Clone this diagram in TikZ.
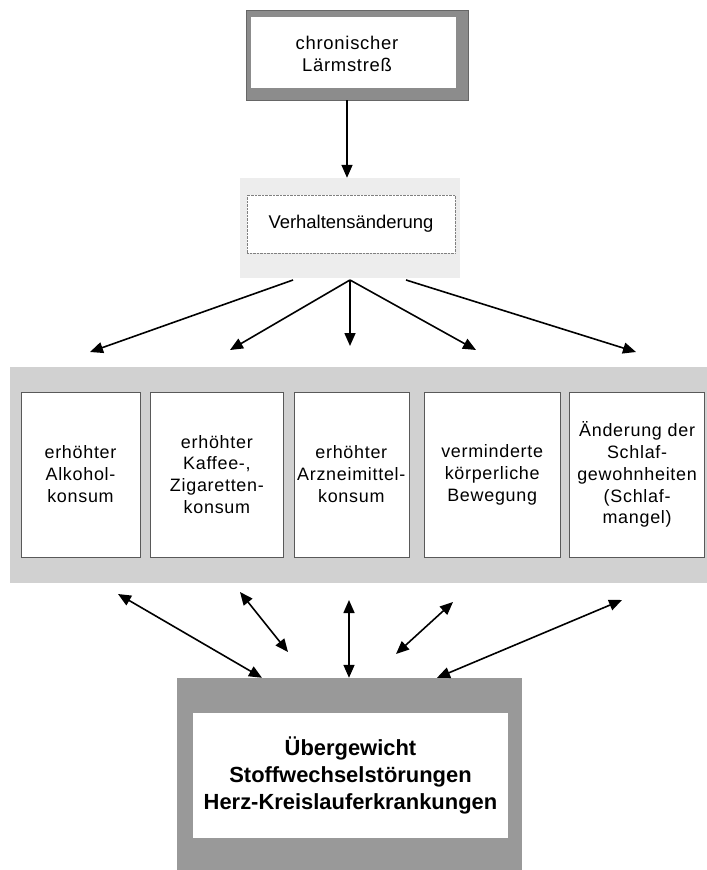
\documentclass[tikz,border=0pt]{standalone}
\usepackage{fontspec}
\setmainfont{Liberation Sans}
\newfontfamily\weit[LetterSpace=4]{Liberation Sans}
\usetikzlibrary{arrows.meta,positioning}
\tikzset{
  rahmen/.style={fill=black!45,draw=black!60,inner sep=0pt},
  feld/.style={fill=white,inner sep=0pt,align=center},
  hof/.style={fill=black!7,inner sep=0pt},
  kasten/.style={draw=black!65,fill=white,inner sep=0pt,align=center,
    minimum height=165bp,font=\weit\fontsize{18}{22}\selectfont},
  pfeil/.style={line width=1.6bp,-{Triangle[length=13bp,width=11bp]}},
  doppel/.style={line width=1.6bp,
    {Triangle[length=13bp,width=11bp]}-{Triangle[length=13bp,width=11bp]}},
}

\begin{document}
\begin{tikzpicture}[x=1bp,y=-1bp]
  \useasboundingbox (0,0) rectangle (707,870);
  % oben: Ursache
  \node[rahmen,minimum width=222bp,minimum height=90bp] (laermR) at (357,55) {};
  \node[feld,minimum width=205bp,minimum height=71bp] (laermF) at (353.5,52.5) {};
  \node[align=center,font=\weit\fontsize{18.5}{22}\selectfont] (laerm) at (347,54) {chronischer\\Lärmstreß};
  % Verhaltensaenderung
  \node[hof,minimum width=220bp,minimum height=100bp] (verhH) at (350,228) {};
  \node[feld,draw=gray,densely dotted,minimum width=208bp,minimum height=58bp,
    font=\fontsize{18.5}{22}\selectfont] (verh) at (351,224) {Verhaltensänderung};
  \draw[pfeil] (laermR.south -| laerm) -- (verhH.north -| laerm);
  % Band mit den fuenf Folgen
  \node[fill=black!18,minimum width=697bp,minimum height=216bp,inner sep=0pt] (band) at (358.5,475) {};
  \node[kasten,minimum width=119bp] (k1) at (80.5,474.5) {erhöhter\\Alkohol-\\konsum};
  \node[kasten,minimum width=133bp,right=10bp of k1] (k2) {erhöhter\\Kaffee-,\\Zigaretten-\\konsum};
  \node[kasten,minimum width=115bp,right=10bp of k2] (k3) {erhöhter\\Arzneimittel-\\konsum};
  \node[kasten,minimum width=136bp,right=15bp of k3] (k4) {verminderte\\körperliche\\Bewegung};
  \node[kasten,minimum width=135bp,right=9bp of k4] (k5) {Änderung der\\Schlaf-\\gewohnheiten\\(Schlaf-\\mangel)};
  % Faecher
  \coordinate (fl) at (293,280);
  \coordinate (fm) at (350,280);
  \coordinate (fr) at (406,280);
  \coordinate (e1) at (90,352);
  \coordinate (e2) at (230,350);
  \coordinate (e3) at (350,346);
  \coordinate (e4) at (476,350);
  \coordinate (e5) at (636,352);
  \draw[pfeil] (fl) -- (e1);
  \draw[pfeil] (fm) -- (e2);
  \draw[pfeil] (fm) -- (e3);
  \draw[pfeil] (fm) -- (e4);
  \draw[pfeil] (fr) -- (e5);
  % unten: Folgeerkrankungen
  \node[rahmen,fill=black!40,draw=none,minimum width=345bp,minimum height=192bp] (untR) at (349.5,774) {};
  \node[feld,minimum width=315bp,minimum height=125bp,
    font=\bfseries\fontsize{22}{27}\selectfont] (unt) at (350.5,775.5)
    {Übergewicht\\Stoffwechselstörungen\\Herz-Kreislauferkrankungen};
  \coordinate (o1) at (118,594);
  \coordinate (o2) at (240,592);
  \coordinate (o3) at (349,600);
  \coordinate (o4) at (453,602);
  \coordinate (o5) at (622,600);
  \coordinate (u2) at (288,652);
  \coordinate (u4) at (396,654);
  \draw[doppel] (o1) -- (untR.north -| 262,0);
  \draw[doppel] (o2) -- (u2);
  \draw[doppel] (o3) -- (untR.north -| o3);
  \draw[doppel] (o4) -- (u4);
  \draw[doppel] (o5) -- (untR.north -| 437,0);
\end{tikzpicture}
\end{document}
